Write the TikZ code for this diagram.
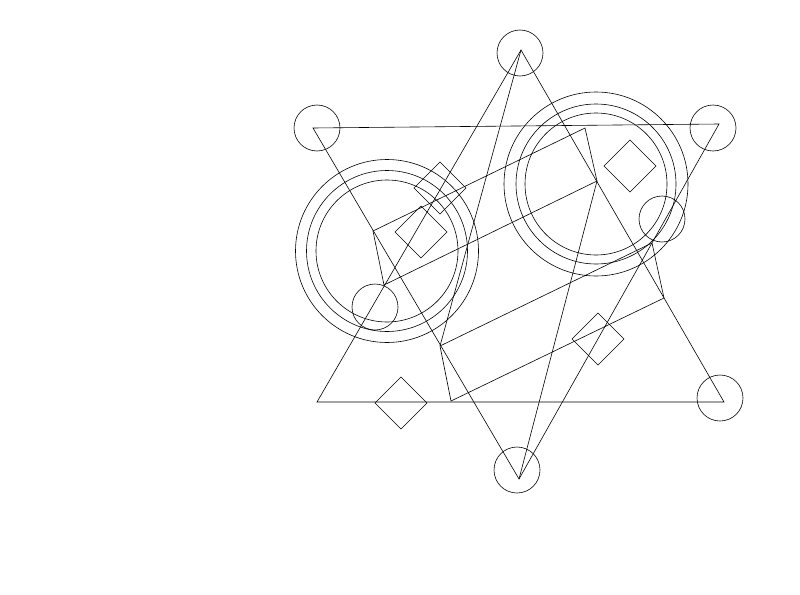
\documentclass[tikz,border=0pt]{standalone}
\begin{document}
\begin{tikzpicture}[x=1pt,y=-1pt,line width=0.6pt]
    \tikzstyle{every path}+=[black!85]
    \useasboundingbox (0,0) rectangle (800,594);
    % triangle corners
    \coordinate (up top) at (521,50);
    \coordinate (up left) at (317,402);
    \coordinate (up right) at (724,402);
    \coordinate (down left) at (313,128);
    \coordinate (down right) at (719,124);
    \coordinate (down bottom) at (519,479);
    % corners of the slanted boxes
    \coordinate (box1a) at (373,231);
    \coordinate (box1b) at (585,128);
    \coordinate (box1c) at (597,181);
    \coordinate (box1d) at (384,285);
    \coordinate (box2a) at (440,346);
    \coordinate (box2b) at (652,243);
    \coordinate (box2c) at (664,298);
    \coordinate (box2d) at (451,401);
    % diamond centres
    \coordinate (dia1) at (440,188);
    \coordinate (dia2) at (421,232);
    \coordinate (dia3) at (630,166);
    \coordinate (dia4) at (598,339);
    \coordinate (dia5) at (401,403);
    \draw [black] (up top) -- (up left) -- (up right) -- cycle;
    \draw [black] (down left) -- (down right) -- (down bottom) -- cycle;
    \draw [black] (box1a) -- (box1b) -- (box1c) -- (box1d) -- cycle;
    \draw [black] (box2a) -- (box2b) -- (box2c) -- (box2d) -- cycle;
    \draw [black] (up top) -- (box2a);
    \draw [black] (down bottom) -- (box1c);
    % big rings
    \draw [black] (387,251) circle (71);
    \draw [black] (387,251) circle (80.5);
    \draw [black] (387,251) circle (91.5);
    \draw [black] (596,184) circle (71);
    \draw [black] (596,184) circle (80);
    \draw [black] (596,184) circle (92);
    % small circles
    \draw [black] (520,53) circle (23);
    \draw [black] (317,128) circle (23);
    \draw [black] (713,128) circle (23);
    \draw [black] (720,398) circle (23);
    \draw [black] (517,470) circle (23);
    \draw [black] (375,307) circle (23);
    \draw [black] (662,219) circle (23);
    % diamonds
    \draw [black] (dia1) ++(0,-26) -- ++(26,26) -- ++(-26,26) -- ++(-26,-26) -- cycle;
    \draw [black] (dia2) ++(0,-26) -- ++(26,26) -- ++(-26,26) -- ++(-26,-26) -- cycle;
    \draw [black] (dia3) ++(0,-26) -- ++(26,26) -- ++(-26,26) -- ++(-26,-26) -- cycle;
    \draw [black] (dia4) ++(0,-26) -- ++(26,26) -- ++(-26,26) -- ++(-26,-26) -- cycle;
    \draw [black] (dia5) ++(0,-26) -- ++(26,26) -- ++(-26,26) -- ++(-26,-26) -- cycle;
\end{tikzpicture}
\end{document}
